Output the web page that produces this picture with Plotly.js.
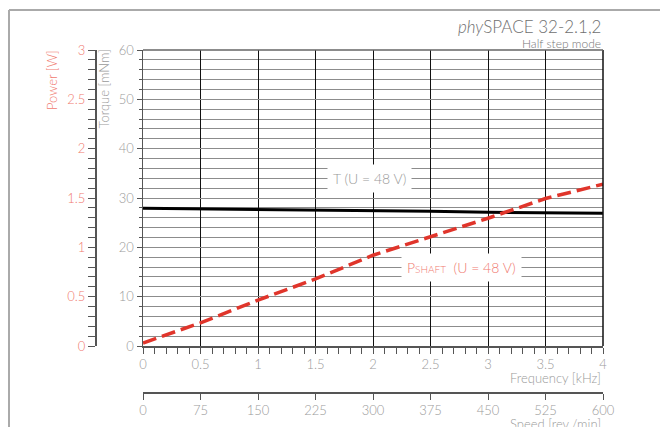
<!DOCTYPE html>
<html><head>
<meta charset="utf-8">
<script src="https://cdn.plot.ly/plotly-3.0.1.min.js"></script>
<style>html,body{margin:0;padding:0;background:#fff}</style>
</head>
<body>
<div id="chart" style="width:660px;height:427px"></div>
<script>
// Data
const frequency = [0, 0.5, 1, 1.5, 2, 2.5, 3, 3.5, 4];          // kHz
const torque    = [27.9, 27.8, 27.7, 27.6, 27.5, 27.3, 27.1, 27.0, 26.9]; // mNm
const power     = [0.03, 0.235, 0.465, 0.68, 0.92, 1.11, 1.295, 1.495, 1.64]; // W
const speedTicks = [0, 75, 150, 225, 300, 375, 450, 525, 600];  // rev./min

const W = 660, H = 427;
const px = v => v / W;
const py = v => 1 - v / H;

const FONT = 'Lato, "Open Sans", sans-serif';
const GRAY = '#9a9a9a';
const SALMON = '#f07a70';
const RED = '#e0352b';
const AXIS = '#555';

const xDom = [px(143), px(603)];
const yDom = [py(346), py(50)];

const traces = [
  { x: frequency, y: torque, xaxis: 'x', yaxis: 'y', mode: 'lines',
    line: { color: '#000', width: 3 }, hoverinfo: 'skip' },
  { x: frequency, y: power, xaxis: 'x', yaxis: 'y2', mode: 'lines',
    line: { color: RED, width: 3.5, dash: '14px,6px' }, hoverinfo: 'skip' },
  { x: speedTicks, y: speedTicks.map(() => null), xaxis: 'x2', yaxis: 'y', mode: 'lines',
    hoverinfo: 'skip', showlegend: false }
];

const layout = {
  width: W, height: H,
  margin: { l: 0, r: 0, t: 0, b: 0 },
  paper_bgcolor: '#fff', plot_bgcolor: '#fff',
  showlegend: false,
  font: { family: FONT, color: GRAY, size: 13, weight: 300 },
  xaxis: {
    domain: xDom, range: [0, 4], anchor: 'y', automargin: false,
    dtick: 0.5, tick0: 0, showgrid: true, gridcolor: '#111', gridwidth: 1,
    zeroline: false, showline: true, linecolor: AXIS, linewidth: 1.5,
    ticks: 'outside', ticklen: 6, tickcolor: AXIS, tickwidth: 1,
    tickfont: { family: FONT, color: GRAY, size: 13, weight: 300 },
    minor: { dtick: 0.1, ticks: 'outside', ticklen: 6, tickcolor: AXIS, showgrid: false }
  },
  xaxis2: {
    domain: xDom, range: [0, 600], overlaying: 'x', anchor: 'free', position: py(392),
    side: 'bottom', automargin: false,
    tickvals: speedTicks, ticktext: speedTicks.map(String),
    showgrid: false, zeroline: false, showline: true, linecolor: AXIS, linewidth: 1.5,
    ticks: 'outside', ticklen: 6, tickcolor: AXIS,
    tickfont: { family: FONT, color: GRAY, size: 13, weight: 300 }
  },
  yaxis: {
    domain: yDom, range: [0, 60], anchor: 'x', automargin: false,
    dtick: 10, tick0: 0, showgrid: true, gridcolor: '#8c8c8c', gridwidth: 1,
    zeroline: false, showline: true, linecolor: AXIS, linewidth: 1.5,
    ticks: 'outside', ticklen: 5, tickcolor: AXIS,
    tickfont: { family: FONT, color: GRAY, size: 13, weight: 300 },
    minor: { dtick: 2, ticks: 'outside', ticklen: 3, tickcolor: AXIS, showgrid: true, gridcolor: '#8c8c8c', gridwidth: 1 }
  },
  yaxis2: {
    domain: yDom, range: [0, 3], overlaying: 'y', anchor: 'free', position: px(95),
    side: 'left', automargin: false,
    dtick: 0.5, tick0: 0, showgrid: false, zeroline: false,
    showline: true, linecolor: AXIS, linewidth: 1.5,
    ticks: 'outside', ticklen: 7, tickcolor: AXIS,
    tickfont: { family: FONT, color: SALMON, size: 13, weight: 300 },
    minor: { dtick: 0.1, ticks: 'outside', ticklen: 7, tickcolor: AXIS, showgrid: false }
  },
  shapes: [
    // outer frame
    { type: 'line', xref: 'paper', yref: 'paper', x0: px(9), x1: 1, y0: py(10), y1: py(10),
      line: { color: '#aaa', width: 2 } },
    { type: 'line', xref: 'paper', yref: 'paper', x0: px(9), x1: px(9), y0: py(10), y1: 0,
      line: { color: '#aaa', width: 2 } },
    // plot border right & top
    { type: 'line', xref: 'x domain', yref: 'y domain', x0: 1, x1: 1, y0: 0, y1: 1,
      line: { color: '#111', width: 1.5 } },
    { type: 'line', xref: 'x domain', yref: 'y domain', x0: 0, x1: 1, y0: 1, y1: 1,
      line: { color: '#666', width: 1.5 } }
  ],
  annotations: [
    { xref: 'paper', yref: 'paper', x: px(603), y: py(27), xanchor: 'right', yanchor: 'middle',
      text: '<i>phy</i>SPACE 32-2.1,2', showarrow: false,
      font: { family: FONT, size: 17, color: '#707070', weight: 300 } },
    { xref: 'paper', yref: 'paper', x: px(603), y: py(43), xanchor: 'right', yanchor: 'middle',
      text: 'Half step mode', showarrow: false,
      font: { family: FONT, size: 12, color: '#777', weight: 300 } },
    { xref: 'paper', yref: 'paper', x: px(52), y: py(48), xanchor: 'center', yanchor: 'top',
      text: 'Power [W]', textangle: -90, showarrow: false,
      font: { family: FONT, size: 13, color: SALMON, weight: 300 } },
    { xref: 'paper', yref: 'paper', x: px(103), y: py(48), xanchor: 'center', yanchor: 'top',
      text: 'Torque [mNm]', textangle: -90, showarrow: false,
      font: { family: FONT, size: 13, color: GRAY, weight: 300 } },
    { xref: 'paper', yref: 'paper', x: px(603), y: py(378), xanchor: 'right', yanchor: 'middle',
      text: 'Frequency [kHz]', showarrow: false,
      font: { family: FONT, size: 13, color: GRAY, weight: 300 } },
    { xref: 'paper', yref: 'paper', x: px(603), y: py(424), xanchor: 'right', yanchor: 'middle',
      text: 'Speed [rev./min]', showarrow: false,
      font: { family: FONT, size: 13, color: GRAY, weight: 300 } },
    { xref: 'paper', yref: 'paper', x: px(369), y: py(178), xanchor: 'center', yanchor: 'middle',
      text: 'T (U = 48 V)', showarrow: false, bgcolor: '#fff', borderpad: 5,
      font: { family: FONT, size: 14, color: GRAY, weight: 300 } },
    { xref: 'paper', yref: 'paper', x: px(462), y: py(267), xanchor: 'center', yanchor: 'middle',
      text: 'P<span style="font-size:10px">SHAFT</span>  (U = 48 V)', showarrow: false, bgcolor: '#fff', borderpad: 5,
      font: { family: FONT, size: 14, color: SALMON, weight: 300 } }
  ]
};

Plotly.newPlot('chart', traces, layout, { staticPlot: true, displayModeBar: false });
</script>
</body></html>
